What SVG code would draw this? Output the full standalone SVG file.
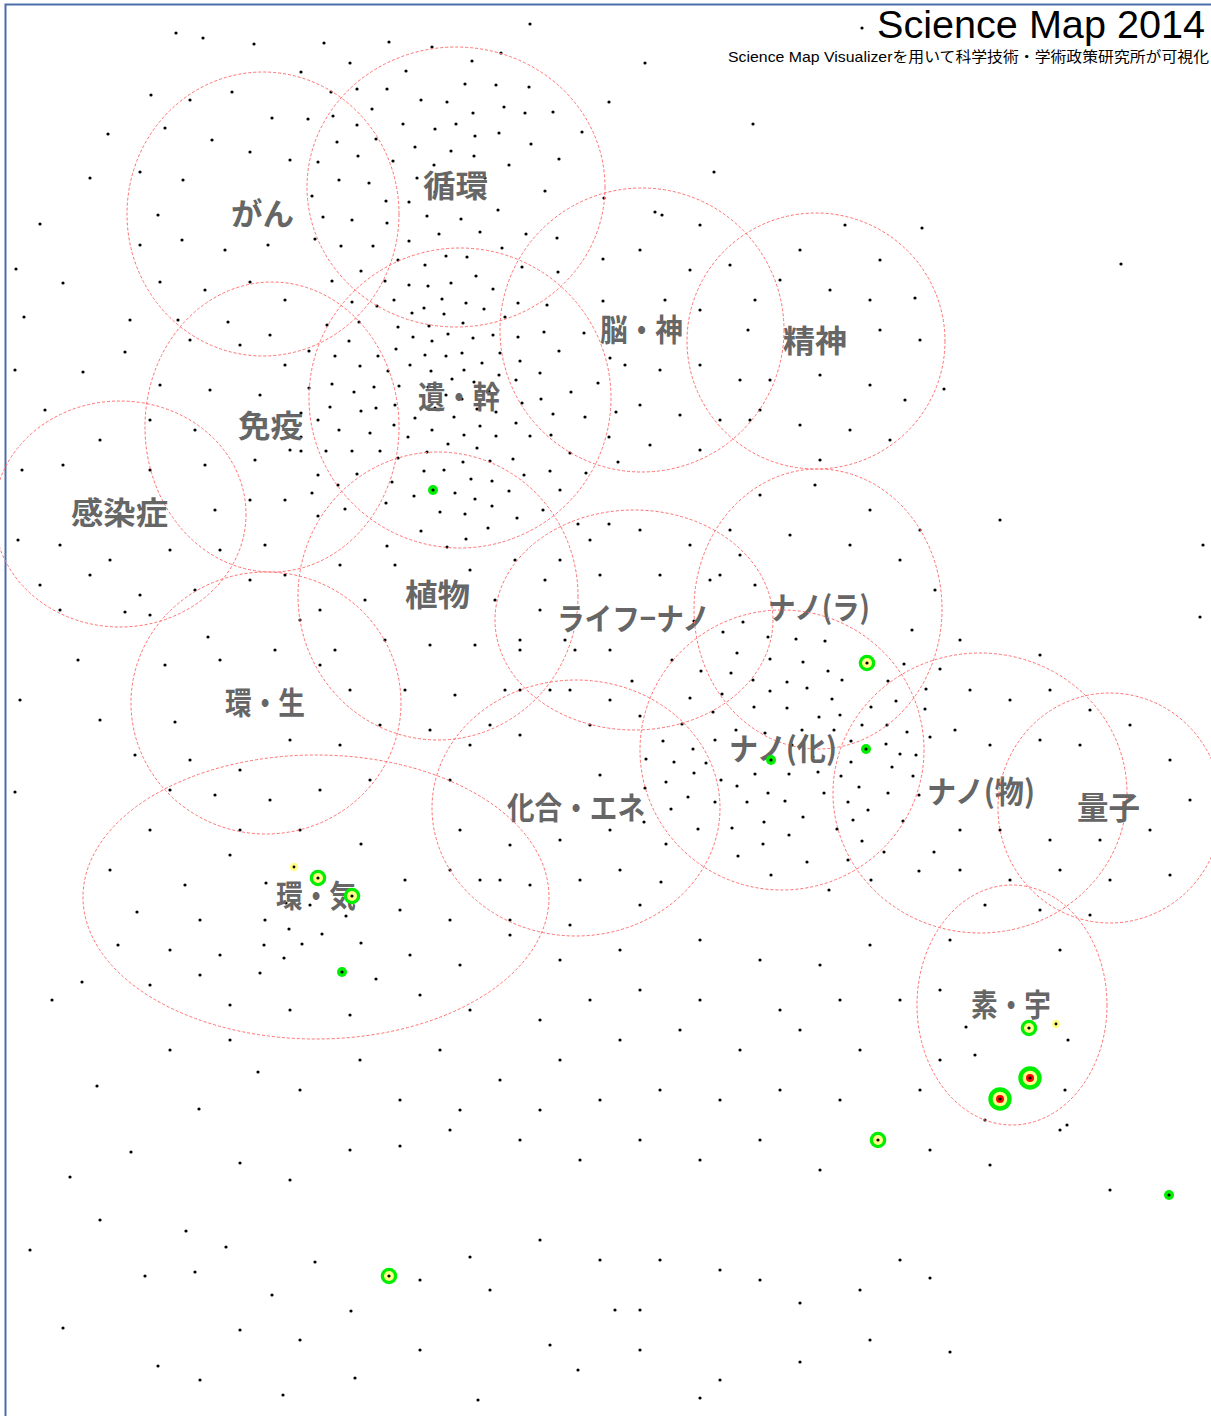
<svg xmlns="http://www.w3.org/2000/svg" width="1211" height="1416" viewBox="0 0 1211 1416">
<style>
.c{fill:none;stroke:#ff7070;stroke-width:1;stroke-dasharray:3 2}
.l{font-family:"Noto Sans CJK JP","Noto Sans",sans-serif;font-size:31px;fill:#666;font-weight:bold}
.dp{fill:none;stroke:#000;stroke-width:3.2;stroke-linecap:round}
.d{fill:#000}
.g{fill:#00ee00}
.y{fill:#ffff88}
.r{fill:#ff0000}
</style>
<rect width="1211" height="1416" fill="#fff"/>
<path d="M5.5 1416V4.5H1211" fill="none" stroke="#4a6ea8" stroke-width="2"/>
<text x="1205" y="38" text-anchor="end" font-family="Liberation Sans,Arial,sans-serif" font-size="39" textLength="328" lengthAdjust="spacingAndGlyphs">Science Map 2014</text>
<text x="1209" y="62" text-anchor="end" font-family="Liberation Sans,'Noto Sans CJK JP',sans-serif" font-size="14.5" textLength="481" lengthAdjust="spacingAndGlyphs">Science Map Visualizerを用いて科学技術・学術政策研究所が可視化</text>
<g id="connectors"></g>
<g id="dots">
<path class="dp" d="M862 28h0M176 33h0M203 38h0M254 44h0M530 24h0M151 95h0M645 63h0M753 124h0M108 134h0M90 178h0M40 224h0M16 269h0M63 283h0M24 317h0M190 100h0M232 92h0M272 118h0M165 128h0M212 140h0M250 152h0M290 160h0M140 172h0M183 180h0M158 215h0M140 245h0M182 240h0M225 250h0M268 245h0M160 282h0M205 290h0M250 282h0M285 300h0M130 320h0M178 320h0M228 322h0M270 335h0"/>
<path class="dp" d="M324 43h0M389 42h0M432 47h0M501 53h0M350 63h0M472 61h0M301 72h0M406 71h0M331 92h0M357 89h0M387 89h0M465 84h0M496 85h0M529 87h0M421 100h0M447 102h0M609 102h0M372 109h0M473 113h0M504 107h0M525 113h0M553 112h0M308 119h0M333 116h0M357 125h0M403 124h0M435 129h0M456 124h0M475 136h0M499 133h0M582 132h0M376 139h0M337 142h0M415 147h0M451 151h0M531 144h0M358 156h0M393 161h0M474 156h0M559 159h0M318 162h0M434 165h0M509 165h0M417 178h0M485 178h0M339 180h0M369 183h0M435 192h0M545 191h0M312 196h0M604 198h0M386 201h0M409 202h0M498 210h0M323 217h0M352 220h0M427 216h0M461 219h0M387 223h0M480 232h0M439 234h0M526 234h0M557 238h0M315 239h0M341 246h0M373 246h0M409 241h0M502 248h0M603 259h0M398 260h0M446 256h0M467 257h0M425 265h0M522 267h0M361 271h0M558 272h0M332 281h0M385 281h0M476 276h0M409 285h0M428 286h0M451 283h0M493 289h0M352 302h0M394 300h0M442 299h0M466 303h0M518 303h0M547 305h0M603 301h0M377 306h0M424 308h0M484 309h0M412 313h0M444 314h0M505 317h0M327 325h0M359 322h0M398 327h0M429 326h0M463 323h0"/>
<path class="dp" d="M349 341h0M413 337h0M432 341h0M448 334h0M473 338h0M493 335h0M518 337h0M544 332h0M584 333h0M309 351h0M335 356h0M378 356h0M396 349h0M425 355h0M446 356h0M462 353h0M500 353h0M559 351h0M610 358h0M360 366h0M410 365h0M482 363h0M520 361h0M388 371h0M431 371h0M464 370h0M499 375h0M540 373h0M309 388h0M332 384h0M374 387h0M399 386h0M452 379h0M516 380h0M598 383h0M354 392h0M428 387h0M474 382h0M489 391h0M571 392h0M462 399h0M522 403h0M541 399h0M330 407h0M361 411h0M376 408h0M395 405h0M435 408h0M446 395h0M477 409h0M496 412h0M553 414h0M585 417h0M616 412h0M301 413h0M318 420h0M415 418h0M454 417h0M516 423h0M394 425h0M339 430h0M370 433h0M432 430h0M480 426h0M301 437h0M408 437h0M464 435h0M496 436h0M530 436h0M551 435h0M609 437h0M326 451h0M352 451h0M380 451h0M448 444h0M477 448h0M301 451h0M398 458h0M427 452h0M513 459h0M570 453h0M490 461h0M463 462h0M618 462h0M318 475h0M357 474h0M424 471h0M444 470h0M524 475h0M550 471h0M586 473h0M392 482h0M471 479h0M492 481h0M338 485h0M312 493h0M414 496h0M455 493h0M509 491h0M560 490h0M386 503h0M475 499h0M492 506h0M345 509h0M440 512h0M465 514h0M543 510h0M318 516h0M517 518h0M578 524h0M609 524h0M421 531h0M488 528h0M466 539h0M387 546h0M447 547h0"/>
<path class="dp" d="M714 172h0M662 215h0M655 212h0M700 225h0M640 250h0M690 270h0M730 265h0M665 300h0M700 310h0M755 300h0M625 365h0M660 370h0M700 365h0M740 380h0M640 405h0M680 415h0M720 420h0M760 410h0M650 445h0M700 450h0M800 250h0M845 225h0M880 260h0M915 298h0M780 280h0M830 290h0M870 300h0M748 330h0M880 330h0M920 340h0M770 380h0M820 375h0M870 385h0M905 400h0M750 420h0M800 425h0M850 430h0M890 440h0M820 460h0M944 389h0M922 228h0M1121 264h0"/>
<path class="dp" d="M15 370h0M83 372h0M125 352h0M190 340h0M240 345h0M285 365h0M160 385h0M210 390h0M260 395h0M45 410h0M100 440h0M150 420h0M195 430h0M22 470h0M63 465h0M150 470h0M205 465h0M255 460h0M290 450h0M215 510h0M250 500h0M285 500h0M18 540h0M60 545h0M110 560h0M170 550h0M220 550h0M265 545h0M40 585h0M90 575h0M140 595h0M195 590h0M250 580h0M285 575h0M60 610h0M125 612h0M78 660h0M20 700h0M100 720h0M15 792h0M150 615h0M208 637h0M300 620h0M165 665h0M220 660h0M275 650h0M320 665h0M175 722h0M135 755h0M190 760h0M240 770h0M290 740h0M340 745h0M170 790h0M215 795h0M270 800h0M320 790h0M370 780h0M150 830h0M240 830h0M300 830h0"/>
<path class="dp" d="M340 565h0M395 565h0M470 570h0M515 560h0M560 560h0M320 610h0M365 600h0M495 600h0M540 610h0M335 650h0M385 640h0M430 645h0M475 645h0M520 650h0M565 640h0M350 690h0M405 690h0M455 695h0M505 690h0M550 690h0M380 725h0M430 730h0M490 725h0M590 540h0M640 530h0M690 545h0M740 555h0M545 580h0M600 575h0M660 575h0M710 580h0M755 585h0M520 640h0M575 650h0M610 650h0M520 690h0M570 690h0M610 700h0M760 495h0M815 485h0M870 510h0M920 530h0M730 530h0M790 535h0M850 545h0M900 560h0M720 575h0M935 590h0M1000 520h0M1203 545h0M1200 617h0"/>
<path class="dp" d="M743 622h0M694 621h0M912 630h0M723 632h0M768 637h0M796 639h0M825 641h0M737 653h0M672 660h0M770 659h0M803 662h0M904 664h0M940 669h0M701 671h0M731 673h0M828 671h0M632 681h0M753 680h0M787 682h0M842 680h0M888 681h0M770 691h0M807 688h0M926 689h0M690 698h0M722 694h0M832 699h0M896 701h0M754 707h0M787 708h0M871 707h0M925 709h0M640 716h0M713 712h0M819 717h0M840 715h0M682 724h0M736 730h0M765 733h0M802 730h0M834 730h0M862 725h0M887 725h0M907 732h0M930 737h0M663 741h0M715 740h0M792 745h0M851 741h0M886 744h0M693 749h0M900 754h0M916 755h0M646 759h0M674 762h0M706 763h0M740 758h0M813 757h0M851 762h0M892 767h0M694 773h0M755 774h0M789 774h0M818 772h0M841 776h0M913 776h0M666 782h0M721 780h0M737 786h0M859 787h0M645 788h0M688 797h0M768 793h0M824 793h0M888 793h0M919 795h0M715 802h0M747 802h0M785 801h0M848 802h0M671 809h0M868 810h0M644 822h0M764 822h0M803 817h0M853 820h0M903 821h0M732 828h0M698 829h0M837 829h0M789 835h0M666 844h0M763 844h0M862 841h0M738 856h0M884 852h0M934 852h0M807 862h0M848 860h0M771 875h0M919 871h0M661 882h0M871 880h0M829 890h0"/>
<path class="dp" d="M470 745h0M520 735h0M590 725h0M450 780h0M600 775h0M460 830h0M510 845h0M560 840h0M610 830h0M480 880h0M530 885h0M580 880h0M620 870h0M510 920h0M570 925h0M640 905h0M960 640h0M1040 655h0M970 690h0M1010 700h0M1050 690h0M1090 710h0M955 730h0M990 745h0M1040 740h0M1080 745h0M1130 725h0M1170 760h0M960 830h0M1000 830h0M1050 840h0M1100 840h0M1150 830h0M1190 800h0M960 870h0M1010 880h0M1060 870h0M1110 880h0M1170 875h0M985 905h0M1040 910h0M1090 915h0"/>
<path class="dp" d="M110 870h0M185 885h0M230 855h0M361 844h0M405 880h0M450 870h0M500 880h0M137 912h0M200 920h0M266 883h0M286 903h0M310 905h0M265 920h0M346 916h0M289 929h0M322 934h0M264 945h0M302 944h0M361 943h0M284 958h0M260 973h0M376 979h0M400 910h0M450 920h0M510 935h0M118 945h0M170 950h0M220 955h0M410 955h0M460 965h0M150 985h0M200 975h0M420 995h0M230 1005h0M290 1010h0M350 1015h0M470 1010h0M52 1000h0M82 982h0"/>
<path class="dp" d="M950 940h0M1060 950h0M940 990h0M966 1027h0M940 1060h0M975 1055h0M1068 1040h0M1065 1090h0M985 1120h0M1067 1125h0M560 960h0M620 950h0M700 940h0M760 960h0M820 965h0M870 945h0M900 1000h0M840 1000h0M780 1010h0M700 1000h0M640 990h0M590 1000h0M540 1020h0"/>
<path class="dp" d="M97 1086h0M131 1152h0M70 1177h0M199 1109h0M258 1072h0M300 1090h0M360 1060h0M440 1050h0M500 1080h0M560 1060h0M620 1040h0M680 1030h0M740 1050h0M800 1030h0M860 1050h0M170 1050h0M230 1040h0M400 1100h0M460 1110h0M540 1110h0M600 1100h0M660 1090h0M720 1100h0M780 1090h0M840 1100h0M920 1090h0M240 1163h0M290 1180h0M350 1150h0M400 1146h0M450 1130h0M520 1140h0M580 1160h0M640 1140h0M700 1160h0M760 1140h0M820 1170h0M930 1150h0M990 1165h0M1060 1130h0M1110 1190h0M186 1231h0M145 1276h0M195 1272h0M226 1247h0M272 1295h0M315 1262h0M351 1311h0M420 1280h0M470 1257h0M490 1290h0M540 1240h0M600 1260h0M615 1310h0M640 1310h0M660 1260h0M720 1270h0M760 1280h0M800 1303h0M860 1290h0M900 1260h0M930 1278h0M100 1220h0M30 1250h0M63 1328h0M158 1366h0M200 1380h0M283 1395h0M355 1378h0M420 1350h0M478 1400h0M550 1345h0M578 1370h0M640 1350h0M700 1398h0M720 1380h0M800 1362h0M870 1340h0M950 1352h0M300 1340h0M240 1330h0"/>
</g>
<g id="gan"><ellipse class="c" cx="263" cy="214" rx="136" ry="142"/><text class="l" x="231" y="225" textLength="63" lengthAdjust="spacingAndGlyphs">がん</text></g>
<g id="junkan"><ellipse class="c" cx="456" cy="187" rx="149" ry="140"/><text class="l" x="423" y="197" textLength="65" lengthAdjust="spacingAndGlyphs">循環</text></g>
<g id="nou"><ellipse class="c" cx="642" cy="330" rx="142" ry="142"/><text class="l" x="600" y="341" textLength="83" lengthAdjust="spacingAndGlyphs">脳・神</text></g>
<g id="seishin"><ellipse class="c" cx="816" cy="341" rx="129" ry="128"/><text class="l" x="783" y="352" textLength="64" lengthAdjust="spacingAndGlyphs">精神</text></g>
<g id="ikan"><ellipse class="c" cx="460" cy="398" rx="151" ry="150"/><text class="l" x="418" y="408" textLength="82" lengthAdjust="spacingAndGlyphs">遺・幹</text></g>
<g id="meneki"><ellipse class="c" cx="272" cy="427" rx="127" ry="145"/><text class="l" x="238" y="437" textLength="65" lengthAdjust="spacingAndGlyphs">免疫</text></g>
<g id="kansen"><ellipse class="c" cx="120" cy="514" rx="126" ry="113"/><text class="l" x="71" y="524" textLength="97" lengthAdjust="spacingAndGlyphs">感染症</text></g>
<g id="shokubutsu"><ellipse class="c" cx="438" cy="596" rx="140" ry="144"/><text class="l" x="405" y="606" textLength="65" lengthAdjust="spacingAndGlyphs">植物</text></g>
<g id="lifenano"><ellipse class="c" cx="634" cy="620" rx="139" ry="110"/><text class="l" x="557" y="630" textLength="153" lengthAdjust="spacingAndGlyphs">ライフ−ナノ</text></g>
<g id="nanora"><ellipse class="c" cx="818" cy="609" rx="124" ry="140"/><text class="l" x="768" y="619" textLength="102" lengthAdjust="spacingAndGlyphs">ナノ(ラ)</text></g>
<g id="kansei"><ellipse class="c" cx="266" cy="703" rx="135" ry="131"/><text class="l" x="225" y="714" textLength="80" lengthAdjust="spacingAndGlyphs">環・生</text></g>
<g id="kagoene"><ellipse class="c" cx="576" cy="808" rx="144" ry="128"/><text class="l" x="507" y="819" textLength="138" lengthAdjust="spacingAndGlyphs">化合・エネ</text></g>
<g id="nanoka"><ellipse class="c" cx="782" cy="750" rx="142" ry="140"/><text class="l" x="729" y="760" textLength="108" lengthAdjust="spacingAndGlyphs">ナノ(化)</text></g>
<g id="nanobutsu"><ellipse class="c" cx="980" cy="793" rx="147" ry="140"/><text class="l" x="927" y="803" textLength="108" lengthAdjust="spacingAndGlyphs">ナノ(物)</text></g>
<g id="ryoshi"><ellipse class="c" cx="1110" cy="808" rx="112" ry="115"/><text class="l" x="1077" y="819" textLength="63" lengthAdjust="spacingAndGlyphs">量子</text></g>
<g id="kanki"><ellipse class="c" cx="316" cy="897" rx="233" ry="142"/><text class="l" x="276" y="907" textLength="80" lengthAdjust="spacingAndGlyphs">環・気</text></g>
<g id="sou"><ellipse class="c" cx="1012" cy="1005" rx="95" ry="120"/><text class="l" x="971" y="1016" textLength="80" lengthAdjust="spacingAndGlyphs">素・宇</text></g>
<g id="markers">
<circle class="g" cx="433" cy="490" r="5"/><circle class="d" cx="433" cy="490" r="1.6"/>
<circle class="g" cx="342" cy="972" r="5"/><circle class="d" cx="342" cy="972" r="1.6"/>
<circle class="g" cx="866" cy="749" r="5"/><circle class="d" cx="866" cy="749" r="1.6"/>
<circle class="g" cx="771" cy="760" r="5"/><circle class="d" cx="771" cy="760" r="1.6"/>
<circle class="g" cx="1169" cy="1195" r="5"/><circle class="d" cx="1169" cy="1195" r="1.6"/>
<circle class="y" cx="294" cy="867" r="4.3"/><circle class="d" cx="294" cy="867" r="1.4"/>
<circle class="y" cx="1056" cy="1024" r="4.3"/><circle class="d" cx="1056" cy="1024" r="1.4"/>
<circle class="g" cx="318" cy="878" r="8.3"/><circle class="y" cx="318" cy="878" r="5"/><circle class="d" cx="318" cy="878" r="1.6"/>
<circle class="g" cx="352" cy="896" r="8.3"/><circle class="y" cx="352" cy="896" r="5"/><circle class="d" cx="352" cy="896" r="1.6"/>
<circle class="g" cx="867" cy="663" r="8.3"/><circle class="y" cx="867" cy="663" r="5"/><circle class="d" cx="867" cy="663" r="1.6"/>
<circle class="g" cx="1029" cy="1028" r="8.3"/><circle class="y" cx="1029" cy="1028" r="5"/><circle class="d" cx="1029" cy="1028" r="1.6"/>
<circle class="g" cx="878" cy="1140" r="8.3"/><circle class="y" cx="878" cy="1140" r="5"/><circle class="d" cx="878" cy="1140" r="1.6"/>
<circle class="g" cx="389" cy="1276" r="8.3"/><circle class="y" cx="389" cy="1276" r="5"/><circle class="d" cx="389" cy="1276" r="1.6"/>
<circle class="g" cx="1030" cy="1078" r="11.7"/><circle class="y" cx="1030" cy="1078" r="7.3"/><circle class="r" cx="1030" cy="1078" r="4"/><circle class="d" cx="1030" cy="1078" r="1.6"/>
<circle class="g" cx="1000" cy="1099" r="11.7"/><circle class="y" cx="1000" cy="1099" r="7.3"/><circle class="r" cx="1000" cy="1099" r="4"/><circle class="d" cx="1000" cy="1099" r="1.6"/>
</g>
</svg>
